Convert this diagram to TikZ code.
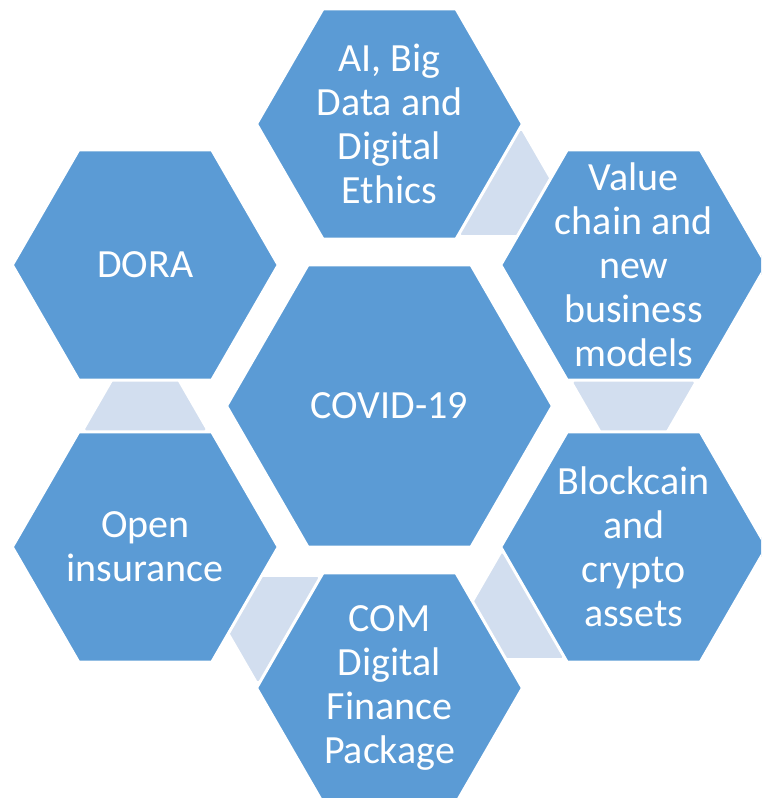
\documentclass[tikz,border=0pt]{standalone}
\usepackage{fontspec}
\setmainfont{Carlito}
\usetikzlibrary{shapes.geometric}

\definecolor{hexblue}{HTML}{5B9BD5}
\definecolor{linkblue}{HTML}{D2DEEF}

\tikzset{
  hexbox/.style={regular polygon, regular polygon sides=6, minimum size=266pt,
    inner sep=0pt, fill=hexblue, draw=white, line width=3pt},
  bighex/.style={hexbox, minimum size=326pt},
  linkhex/.style={hexbox, minimum size=124pt, fill=linkblue},
  hextext/.style={text=white, align=center, inner sep=0pt,
    font=\fontsize{40}{44}\selectfont},
}

\begin{document}
\begin{tikzpicture}[x=1pt,y=1pt]
    % Page
    \path[fill=white] (-389.5,-392) rectangle (371.5,406);
    \useasboundingbox (-389.5,-392) rectangle (371.5,406);
    \clip (-389.5,-392) rectangle (371.5,406);

    % Light links, they sit behind the ring
    \node[linkhex] (link1) at (65.4:245.3) {};
    \node[linkhex] (link2) at (5.4:245.3) {};
    \node[linkhex] (link3) at (-54.6:245.3) {};
    \node[linkhex] (link4) at (-114.6:245.3) {};
    \node[linkhex] (link5) at (-174.6:245.3) {};

    % Centre
    \node[bighex] (covid) at (0,0) {};
    \node[hextext] (covid text) at (covid) {COVID-19};

    % Ring, clockwise from the top
    \node[hexbox] (ai) at (90:282) {};
    \node[hexbox] (value) at (30:282) {};
    \node[hexbox] (block) at (-30:282) {};
    \node[hexbox] (com) at (-90:282) {};
    \node[hexbox] (open) at (210:282) {};
    \node[hexbox] (dora) at (150:282) {};

    % Labels
    \node[hextext] (ai text) at (ai) {AI, Big\\Data and\\Digital\\Ethics};
    \node[hextext] (value text) at (value) {Value\\chain and\\new\\business\\models};
    \node[hextext] (block text) at (block) {Blockcain\\and\\crypto\\assets};
    \node[hextext] (com text) at (com) {COM\\Digital\\Finance\\Package};
    \node[hextext] (open text) at (open) {Open\\insurance};
    \node[hextext] (dora text) at (dora) {DORA};
\end{tikzpicture}
\end{document}
